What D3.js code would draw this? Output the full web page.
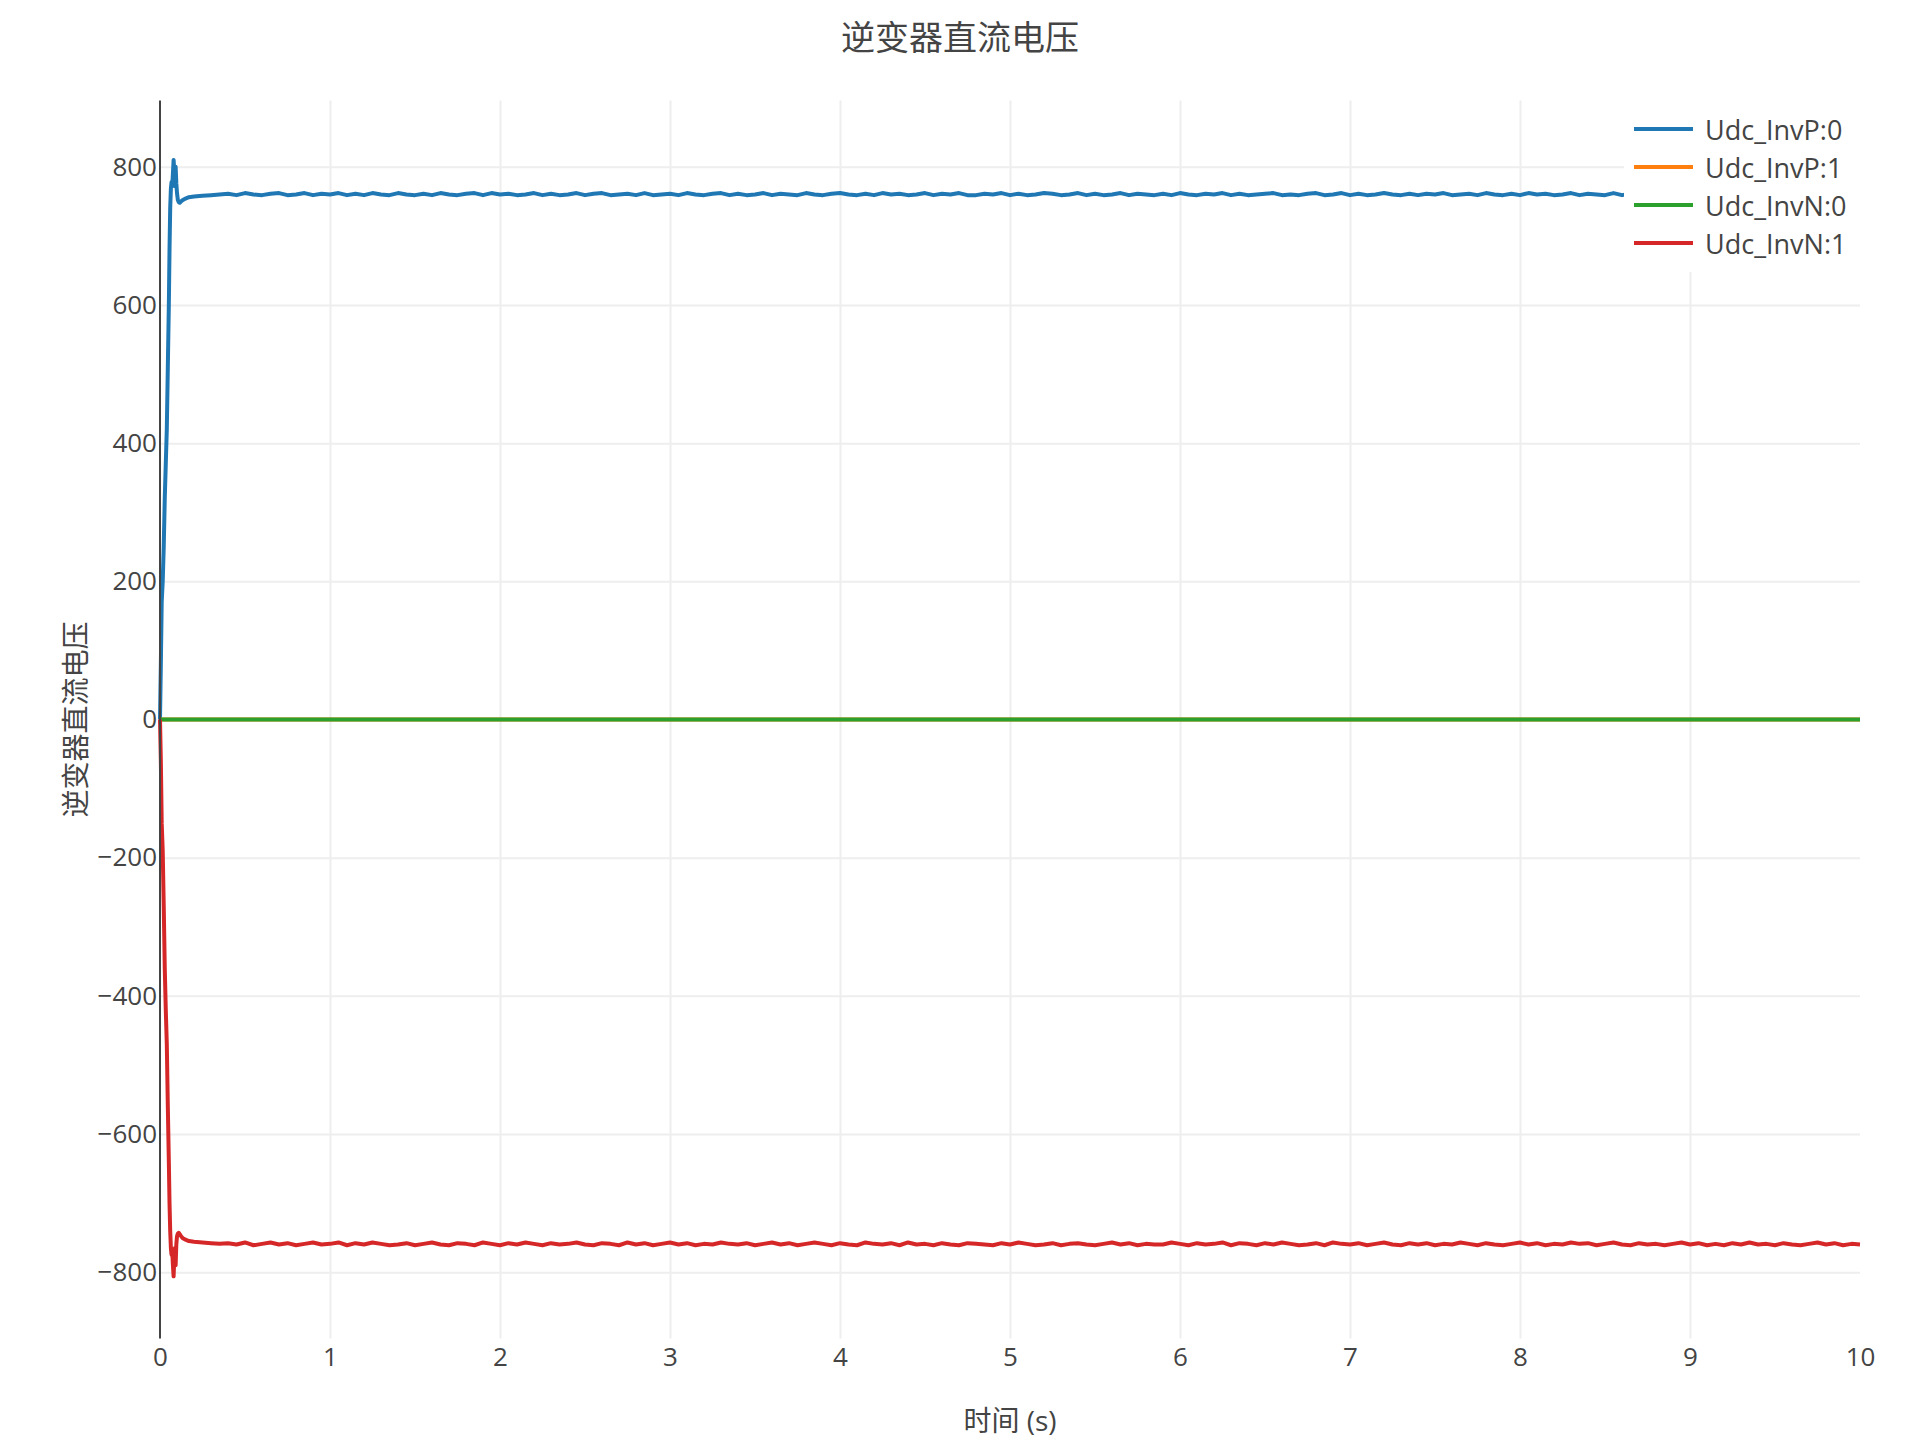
<!DOCTYPE html>
<html>
<head>
<meta charset="utf-8">
<script src="https://cdn.jsdelivr.net/npm/d3@7"></script>
<style>
  body { margin: 0; background: #fff; }
  svg { display: block; font-family: "Open Sans", "Noto Sans CJK SC", sans-serif; }
</style>
</head>
<body>
<svg width="1920" height="1440"></svg>
<script>
const width = 1920;
const height = 1440;

// Axis ticks
const xTicks = [0, 1, 2, 3, 4, 5, 6, 7, 8, 9, 10];
const yTicks = [-800, -600, -400, -200, 0, 200, 400, 600, 800];

// Series names and colours
const seriesNames = ["Udc_InvP:0", "Udc_InvP:1", "Udc_InvN:0", "Udc_InvN:1"];
const seriesColors = ["#1f77b4", "#ff7f0e", "#2ca02c", "#d62728"];

// Start-up transient (s)
const tStart = [0, 0.005, 0.01, 0.016, 0.022, 0.028, 0.034, 0.04, 0.046, 0.052, 0.056,
  0.06, 0.064, 0.068, 0.072, 0.076, 0.08, 0.084, 0.088, 0.092, 0.096, 0.1, 0.105,
  0.11, 0.116, 0.124, 0.135, 0.15, 0.17, 0.2, 0.25, 0.3, 0.35];
const invP0Start = [0, 80, 170, 200, 250, 320, 370, 420, 510, 600, 680, 740, 768, 778,
  772, 790, 810, 795, 772, 800, 776, 762, 752, 749, 748, 750, 752, 754, 756, 757,
  758, 759, 760];
const invN1Start = [0, -60, -150, -190, -270, -360, -420, -470, -560, -640, -700, -740,
  -765, -775, -770, -790, -806, -780, -765, -790, -760, -748, -744, -743, -745, -748,
  -751, -753, -755, -756, -757, -758, -759];

// Steady state, one reading every 0.05 s
const tSteady = [0.4, 0.45, 0.5, 0.55, 0.6, 0.65, 0.7, 0.75, 0.8, 0.85,
  0.9, 0.95, 1.0, 1.05, 1.1, 1.15, 1.2, 1.25, 1.3, 1.35,
  1.4, 1.45, 1.5, 1.55, 1.6, 1.65, 1.7, 1.75, 1.8, 1.85,
  1.9, 1.95, 2.0, 2.05, 2.1, 2.15, 2.2, 2.25, 2.3, 2.35,
  2.4, 2.45, 2.5, 2.55, 2.6, 2.65, 2.7, 2.75, 2.8, 2.85,
  2.9, 2.95, 3.0, 3.05, 3.1, 3.15, 3.2, 3.25, 3.3, 3.35,
  3.4, 3.45, 3.5, 3.55, 3.6, 3.65, 3.7, 3.75, 3.8, 3.85,
  3.9, 3.95, 4.0, 4.05, 4.1, 4.15, 4.2, 4.25, 4.3, 4.35,
  4.4, 4.45, 4.5, 4.55, 4.6, 4.65, 4.7, 4.75, 4.8, 4.85,
  4.9, 4.95, 5.0, 5.05, 5.1, 5.15, 5.2, 5.25, 5.3, 5.35,
  5.4, 5.45, 5.5, 5.55, 5.6, 5.65, 5.7, 5.75, 5.8, 5.85,
  5.9, 5.95, 6.0, 6.05, 6.1, 6.15, 6.2, 6.25, 6.3, 6.35,
  6.4, 6.45, 6.5, 6.55, 6.6, 6.65, 6.7, 6.75, 6.8, 6.85,
  6.9, 6.95, 7.0, 7.05, 7.1, 7.15, 7.2, 7.25, 7.3, 7.35,
  7.4, 7.45, 7.5, 7.55, 7.6, 7.65, 7.7, 7.75, 7.8, 7.85,
  7.9, 7.95, 8.0, 8.05, 8.1, 8.15, 8.2, 8.25, 8.3, 8.35,
  8.4, 8.45, 8.5, 8.55, 8.6, 8.65, 8.7, 8.75, 8.8, 8.85,
  8.9, 8.95, 9.0, 9.05, 9.1, 9.15, 9.2, 9.25, 9.3, 9.35,
  9.4, 9.45, 9.5, 9.55, 9.6, 9.65, 9.7, 9.75, 9.8, 9.85,
  9.9, 9.95, 10.0];
const invP0Steady = [761, 759, 762, 760, 759, 761, 762, 759, 760, 762,
  759, 761, 760, 762, 759, 761, 759, 762, 760, 759,
  762, 760, 759, 761, 759, 762, 760, 759, 761, 762,
  759, 762, 760, 761, 759, 760, 762, 759, 761, 759,
  760, 762, 759, 761, 762, 759, 760, 761, 759, 762,
  759, 760, 761, 759, 762, 760, 759, 761, 762, 759,
  761, 759, 760, 762, 759, 761, 760, 759, 762, 760,
  759, 761, 762, 760, 759, 761, 759, 762, 760, 761,
  759, 760, 762, 759, 761, 760, 762, 759, 759, 761,
  760, 762, 759, 761, 759, 760, 762, 761, 759, 760,
  762, 759, 761, 759, 760, 762, 759, 761, 760, 759,
  761, 759, 762, 760, 759, 761, 760, 762, 759, 761,
  759, 760, 761, 762, 759, 760, 759, 761, 762, 759,
  760, 762, 759, 761, 759, 760, 762, 760, 759, 761,
  759, 761, 760, 762, 759, 760, 761, 759, 762, 760,
  759, 761, 759, 762, 760, 761, 759, 760, 762, 759,
  761, 760, 759, 762, 759, 761, 760, 762, 759, 760,
  762, 759, 760, 761, 759, 762, 760, 759, 761, 760,
  759, 761, 762, 760, 759, 761, 759, 760, 762, 761,
  759, 760, 761];
const invN1Steady = [-758, -760, -757, -761, -759, -757, -760, -758, -761, -759,
  -757, -760, -759, -757, -761, -758, -760, -757, -759, -761,
  -760, -758, -761, -759, -757, -760, -761, -758, -759, -761,
  -757, -759, -761, -758, -760, -757, -759, -761, -758, -760,
  -759, -757, -760, -761, -758, -759, -761, -757, -760, -758,
  -761, -759, -757, -760, -758, -761, -759, -760, -757, -759,
  -760, -758, -761, -759, -757, -760, -758, -761, -759, -757,
  -759, -761, -758, -760, -761, -757, -759, -760, -758, -761,
  -757, -760, -759, -761, -758, -760, -761, -758, -759, -760,
  -761, -758, -760, -757, -759, -761, -760, -758, -761, -759,
  -758, -760, -761, -759, -757, -760, -758, -761, -759, -760,
  -760, -757, -759, -761, -758, -760, -759, -757, -761, -758,
  -759, -761, -758, -760, -757, -759, -761, -760, -758, -761,
  -757, -759, -760, -758, -761, -759, -757, -760, -761, -758,
  -760, -758, -761, -759, -760, -757, -759, -761, -758, -760,
  -761, -759, -757, -760, -758, -761, -759, -760, -757, -759,
  -758, -761, -759, -757, -760, -761, -758, -760, -759, -761,
  -759, -757, -760, -758, -761, -759, -761, -758, -760, -757,
  -760, -759, -761, -758, -760, -761, -759, -757, -760, -758,
  -761, -759, -760];

// Udc_InvP:1 and Udc_InvN:0 stay at zero the whole run
const tZero = [0, 10];
const invP1Values = [0, 0];
const invN0Values = [0, 0];

const margin = {top: 100.5, right: 60, bottom: 101.5, left: 160};
const plotWidth = width - margin.left - margin.right;
const plotHeight = height - margin.top - margin.bottom;

const svg = d3.select("svg");
svg.append("rect").attr("width", width).attr("height", height).attr("fill", "#fff");

const g = svg.append("g")
    .attr("transform", `translate(${margin.left}, ${margin.top})`);

const x = d3.scaleLinear().domain([0, 10]).range([0, plotWidth]);
const y = d3.scaleLinear().domain([-896, 896]).range([plotHeight, 0]);

// Grid lines
g.append("g")
    .attr("class", "xgrid")
    .attr("transform", `translate(0, ${plotHeight})`)
    .call(d3.axisBottom(x).tickValues(xTicks.filter(d => d > 0 && d < 10))
        .tickSize(-plotHeight).tickFormat(""))
    .call(a => a.select(".domain").remove())
    .selectAll("line").attr("stroke", "#eee").attr("stroke-width", 2);

g.append("g")
    .attr("class", "ygrid")
    .call(d3.axisLeft(y).tickValues(yTicks.filter(d => d !== 0))
        .tickSize(-plotWidth).tickFormat(""))
    .call(a => a.select(".domain").remove())
    .selectAll("line").attr("stroke", "#eee").attr("stroke-width", 2);

// Build series
const toPts = (ts, vs) => ts.map((t, i) => ({t: t, v: vs[i]}));
const series = [
    toPts(tStart.concat(tSteady), invP0Start.concat(invP0Steady)),
    toPts(tZero, invP1Values),
    toPts(tZero, invN0Values),
    toPts(tStart.concat(tSteady), invN1Start.concat(invN1Steady))
];

const line = d3.line()
    .x(d => x(d.t))
    .y(d => y(d.v));

g.append("g").selectAll("path")
    .data(series)
    .enter().append("path")
    .attr("d", d => line(d))
    .attr("fill", "none")
    .attr("stroke", (d, i) => seriesColors[i])
    .attr("stroke-width", 4)
    .attr("stroke-linejoin", "round");

// Y axis line
g.append("line")
    .attr("x1", 0).attr("x2", 0)
    .attr("y1", 0).attr("y2", plotHeight)
    .attr("stroke", "#444")
    .attr("stroke-width", 2);

// Tick labels
const xAxis = g.append("g")
    .attr("transform", `translate(0, ${plotHeight})`)
    .call(d3.axisBottom(x).tickValues(xTicks).tickSize(0).tickFormat(d3.format("d")));
xAxis.select(".domain").remove();
xAxis.selectAll("text")
    .attr("y", 18).attr("dy", "0.35em")
    .attr("font-size", "26px").attr("fill", "#444")
    .attr("font-family", "'Open Sans', sans-serif");

const yAxis = g.append("g")
    .call(d3.axisLeft(y).tickValues(yTicks).tickSize(0).tickPadding(3).tickFormat(d3.format("d")));
yAxis.select(".domain").remove();
yAxis.selectAll("text")
    .attr("font-size", "26px").attr("fill", "#444")
    .attr("font-family", "'Open Sans', sans-serif");

// Titles
svg.append("text")
    .attr("x", width / 2)
    .attr("y", 37)
    .attr("text-anchor", "middle")
    .attr("dominant-baseline", "central")
    .attr("font-size", "34px")
    .attr("fill", "#444")
    .text("逆变器直流电压");

svg.append("text")
    .attr("x", margin.left + plotWidth / 2)
    .attr("y", 1420)
    .attr("text-anchor", "middle")
    .attr("dominant-baseline", "central")
    .attr("font-size", "28px")
    .attr("fill", "#444")
    .text("时间 (s)");

svg.append("text")
    .attr("transform", `translate(75, ${margin.top + plotHeight / 2}) rotate(-90)`)
    .attr("text-anchor", "middle")
    .attr("dominant-baseline", "central")
    .attr("font-size", "28px")
    .attr("fill", "#444")
    .text("逆变器直流电压");

// Legend
const legend = svg.append("g").attr("class", "legend");
legend.append("rect")
    .attr("x", 1624).attr("y", 96)
    .attr("width", 290).attr("height", 176)
    .attr("fill", "#fff");

seriesNames.forEach((name, i) => {
    const ly = 129 + i * 38;
    legend.append("line")
        .attr("x1", 1634).attr("x2", 1693)
        .attr("y1", ly).attr("y2", ly)
        .attr("stroke", seriesColors[i])
        .attr("stroke-width", 4);
    legend.append("text")
        .attr("x", 1705)
        .attr("y", ly)
        .attr("dominant-baseline", "central")
        .attr("font-size", "27px")
        .attr("fill", "#444")
        .text(name);
});
</script>
</body>
</html>
